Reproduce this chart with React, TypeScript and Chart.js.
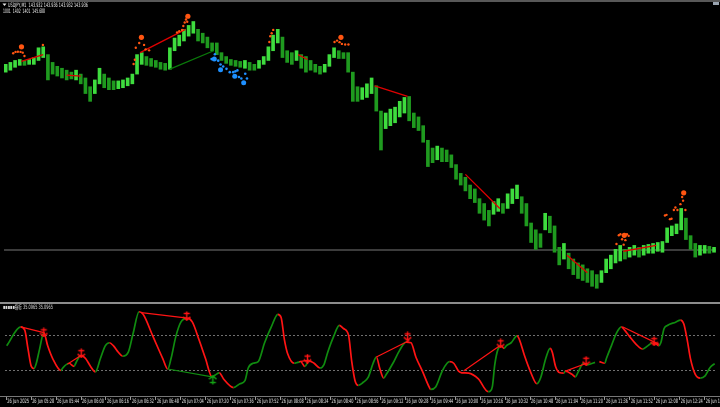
import React, { useEffect, useRef } from "react";
import { Chart, registerables } from "chart.js";

Chart.register(...registerables);

// ---------- price pane data (USDJPY M1, aggregated per 3 minutes) ----------
const CANDLE_STEP_MIN = 3;
const CANDLE_HIGH = [
  144.890, 144.900, 144.910, 144.915, 144.910, 144.915, 144.925, 144.975, 144.980, 144.940,
  144.900, 144.880, 144.870, 144.860, 144.850, 144.860, 144.840, 144.820, 144.775, 144.810,
  144.870, 144.840, 144.820, 144.805, 144.805, 144.810, 144.820, 144.840, 144.940, 144.950,
  144.930, 144.920, 144.910, 144.900, 144.895, 144.975, 145.025, 145.040, 145.070, 145.090,
  145.110, 145.070, 145.050, 145.030, 145.000, 145.000, 144.950, 144.930, 144.915, 144.910,
  144.905, 144.910, 144.900, 144.890, 144.910, 144.930, 144.980, 145.040, 145.070, 145.030,
  144.960, 144.950, 144.960, 144.940, 144.930, 144.910, 144.890, 144.880, 144.890, 144.940,
  144.975, 144.960, 144.950, 144.950, 144.850, 144.775, 144.770, 144.790, 144.820, 144.780,
  144.650, 144.640, 144.660, 144.670, 144.700, 144.720, 144.725, 144.640, 144.620, 144.575,
  144.500, 144.460, 144.470, 144.460, 144.450, 144.425, 144.375, 144.330, 144.310, 144.270,
  144.250, 144.200, 144.175, 144.140, 144.185, 144.200, 144.175, 144.225, 144.250, 144.270,
  144.210, 144.175, 144.075, 144.040, 144.020, 144.125, 144.110, 144.060, 143.950, 143.970,
  143.920, 143.890, 143.870, 143.860, 143.840, 143.830, 143.810, 143.830, 143.890, 143.910,
  143.940, 143.960, 143.940, 143.950, 143.960, 143.950, 143.960, 143.965, 143.970, 143.975,
  143.980, 144.050, 144.060, 144.070, 144.150, 144.100, 144.010, 143.970, 143.960, 143.960,
  143.955, 143.950,
];
const CANDLE_LOW = [
  144.850, 144.860, 144.875, 144.885, 144.885, 144.890, 144.890, 144.910, 144.925, 144.810,
  144.840, 144.830, 144.820, 144.810, 144.815, 144.810, 144.790, 144.740, 144.700, 144.740,
  144.790, 144.770, 144.760, 144.760, 144.765, 144.770, 144.780, 144.790, 144.840, 144.890,
  144.885, 144.880, 144.875, 144.865, 144.860, 144.865, 144.960, 144.985, 145.010, 145.035,
  145.050, 145.010, 145.000, 144.975, 144.960, 144.940, 144.910, 144.895, 144.885, 144.880,
  144.875, 144.870, 144.860, 144.860, 144.870, 144.890, 144.910, 144.960, 145.000, 144.925,
  144.900, 144.890, 144.910, 144.870, 144.850, 144.860, 144.850, 144.840, 144.850, 144.880,
  144.925, 144.920, 144.920, 144.850, 144.700, 144.700, 144.710, 144.720, 144.740, 144.650,
  144.450, 144.560, 144.575, 144.590, 144.620, 144.640, 144.600, 144.565, 144.550, 144.490,
  144.365, 144.385, 144.400, 144.390, 144.390, 144.360, 144.300, 144.270, 144.240, 144.200,
  144.180, 144.125, 144.090, 144.060, 144.120, 144.135, 144.125, 144.150, 144.175, 144.200,
  144.125, 144.060, 143.975, 143.940, 143.950, 144.040, 144.025, 143.925, 143.860, 143.890,
  143.840, 143.810, 143.790, 143.780, 143.770, 143.750, 143.740, 143.770, 143.820, 143.840,
  143.870, 143.880, 143.890, 143.900, 143.910, 143.900, 143.910, 143.920, 143.920, 143.930,
  143.925, 143.975, 144.010, 144.020, 144.040, 143.990, 143.940, 143.900, 143.910, 143.920,
  143.920, 143.925,
];
const LAST_PRICE = 143.936;

// divergence lines on price (minutes, price); null separates segments
const PRICE_RED_T = [10, 24, 24, 39, 48, 48, 86, 115, 115, 187, 193, 193, 236, 257, 257, 294, 316, 316, 359, 372, 372, 395, 416];
const PRICE_RED_P = [144.905, 144.94, null, 144.835, 144.83, null, 144.95, 145.07, null, 144.94, 144.915, null, 144.78, 144.725, null, 144.325, 144.15, null, 143.91, 143.82, null, 143.93, 143.96];
const PRICE_GREEN_T = [105, 133];
const PRICE_GREEN_P = [144.865, 144.96];

// signal dots
const ORANGE_BIG_T = [10.1, 86.8, 116.5, 214.4, 395.6, 433.6];
const ORANGE_BIG_P = [144.98, 145.029, 145.137, 145.029, 144.012, 144.23];
const ORANGE_SMALL_T = [4.8, 6.3, 7.8, 9.5, 10.9, 12.0, 23.8, 83.2, 85.4, 88.5, 89.5, 91.7, 82.6, 81.8, 115.3, 114.5, 116.1, 113.6, 109.6, 111.0, 112.8, 168.6, 169.2, 170.1, 171.1, 210.3, 211.9, 213.5, 215.0, 217.1, 219.2, 392.1, 393.1, 397.3, 398.4, 394.2, 396.3, 390.6, 395.2, 432.6, 433.2, 431.5, 428.3, 429.6, 427.3, 434.7, 424.8, 422.6, 421.6, 425.8];
const ORANGE_SMALL_P = [144.947, 144.954, 144.955, 144.954, 144.95, 144.933, 144.99, 144.975, 145.0, 144.99, 144.967, 144.962, 144.914, 144.892, 145.12, 145.105, 145.109, 145.087, 145.054, 145.06, 145.067, 145.005, 145.034, 145.05, 145.067, 145.005, 145.012, 145.004, 144.995, 144.992, 144.992, 144.012, 144.017, 144.017, 144.009, 143.992, 143.987, 143.967, 143.964, 144.209, 144.19, 144.172, 144.155, 144.142, 144.142, 144.142, 144.095, 144.117, 144.114, 144.097];
const BLUE_BIG_T = [133.4, 137.4, 146.5, 152.2];
const BLUE_BIG_P = [144.917, 144.862, 144.829, 144.795];
const BLUE_SMALL_T = [133.8, 131.7, 135.9, 137.4, 139.1, 141.2, 143.3, 145.5, 146.9, 148.2, 149.2, 150.7, 153.2, 154.3];
const BLUE_SMALL_P = [144.942, 144.917, 144.909, 144.889, 144.879, 144.867, 144.85, 144.85, 144.854, 144.859, 144.825, 144.817, 144.842, 144.817];

// ---------- oscillator pane ----------
const OSC_T = [
  0.0, 9.0, 11.6, 13.7, 15.8, 17.5, 19.0, 21.1, 23.8, 26.3, 29.5, 34.8, 35.8, 40.0, 43.2, 44.3, 46.4, 47.8,
  50.6, 53.8, 56.9, 60.1, 63.2, 65.9, 68.5, 71.6, 74.4, 78.0, 81.1, 84.9, 87.5, 93.8, 100.1, 103.3,
  105.4, 108.5, 111.7, 115.9, 119.1, 123.3, 127.5, 131.7, 133.8, 136.4, 139.1, 145.5, 149.6, 152.8,
  154.9, 158.1, 161.3, 165.4, 169.7, 173.9, 176.0, 178.1, 180.2, 184.4, 186.6, 188.6, 191.2, 193.9,
  197.1, 200.9, 203.4, 205.9, 209.7, 213.3, 216.0, 219.2, 221.3, 223.4, 225.5, 228.7, 231.8, 235.0,
  237.1, 239.2, 241.8, 243.5, 247.7, 251.9, 256.1, 259.3, 262.4, 266.6, 270.9, 271.9, 275.1, 279.3,
  282.4, 284.1, 286.7, 289.8, 291.9, 296.2, 302.5, 308.8, 310.0, 311.5, 313.0, 315.1, 317.2, 318.9,
  320.4, 323.5, 327.3, 328.8, 332.0, 336.2, 340.0, 342.5, 345.7, 348.5, 349.9, 352.0, 354.8, 357.3,
  358.3, 362.5, 364.6, 366.8, 369.9, 372.0, 375.2, 377.3, 378.7, 380.1, 383.6, 384.6, 387.8, 391.0,
  394.2, 396.3, 399.4, 403.7, 407.9, 411.1, 414.2, 416.3, 418.2, 419.5, 421.6, 423.7, 429.0, 432.1,
  434.2, 436.4, 438.5, 441.6, 444.8, 447.9, 451.1, 454.0,
];
const OSC_V = [
  57.9, 79.3, 75.7, 54.2, 34.6, 32.2, 38.2, 54.2, 72.9, 57.9, 43.5, 30.0, 32.5, 38.2, 34.6, 38.2, 45.3, 47.2,
  43.5, 34.6, 28.5, 43.5, 57.9, 61.4, 57.9, 50.7, 46.1, 50.7, 72.1, 96.5, 93.6, 68.6, 43.5, 31.7,
  43.5, 68.6, 84.7, 89.3, 84.7, 65.0, 43.5, 22.8, 25.0, 27.4, 20.4, 10.7, 15.0, 18.5,
  32.8, 38.2, 40.0, 61.4, 79.3, 93.6, 90.0, 65.0, 48.9, 38.2, 39.2, 40.0, 34.6, 41.0,
  38.2, 32.8, 36.4, 50.7, 68.6, 81.0, 77.5, 70.3, 40.0, 18.5, 13.2, 16.7, 22.1, 38.2,
  45.3, 32.8, 21.4, 25.7, 38.2, 52.5, 62.2, 61.4, 45.3, 29.3, 11.4, 8.6, 11.4, 29.3,
  38.2, 40.0, 38.2, 29.3, 27.4, 27.0, 20.4, 6.0, 6.5, 12.0, 36.4, 54.2, 57.9, 55.0,
  57.9, 61.4, 69.2, 65.0, 47.2, 27.4, 15.0, 22.1, 43.5, 55.0, 50.7, 34.6, 27.4, 27.0,
  29.3, 25.7, 22.8, 29.3, 38.2, 36.4, 37.9, 39.2, null, 40.0, 38.2, 43.5, 57.9, 72.1,
  79.3, 75.7, 68.6, 59.6, 54.2, 57.9, 61.4, 60.3, 58.2, 61.4, 77.5, 81.0, 84.7, 87.1,
  82.9, 65.0, 43.5, 25.7, 21.4, 23.9, 33.5, 37.8,
];
const OSC_LEVELS = [70, 30];
const OSC_RED_T = [9.0, 23.8, 23.8, 38.9, 47.8, 47.8, 86.4, 115.9, 115.9, 187.6, 193.9, 193.9, 237.1, 258.2, 258.2, 293.0, 316.2, 316.2, 358.3, 372.0, 372.0, 395.2, 418.4];
const OSC_RED_V = [79.3, 72.9, null, 37.1, 47.2, null, 95.4, 89.3, null, 40.0, 41.8, null, 45.3, 63.9, null, 29.3, 57.9, null, 29.3, 38.2, null, 79.3, 59.6];
const OSC_GREEN_T = [103.3, 131.7];
const OSC_GREEN_V = [31.7, 22.8];
const ARROW_DOWN_T = [23.8, 47.8, 115.5, 192.9, 257.1, 316.8, 371.6, 415.2];
const ARROW_DOWN_V = [73.2, 49.6, 91.7, 43.5, 68.6, 60.7, 41.0, 63.2];
const ARROW_UP_T = [132.2];
const ARROW_UP_V = [19.3];

// ---------- texts ----------
const HEADER_LINE_1 = "USDJPY,M1  143.932 143.936 143.932 143.936";
const HEADER_LINE_2 = "1001  1402  1401  145.688";
const OSC_LABEL = "▪▪▪▪▪指标 35.0965 35.0965";
const TICK_STEP_MIN = 16;
const TICK_LABELS = [
  "26 Jun 2025", "26 Jun 05:28", "26 Jun 05:44", "26 Jun 06:00", "26 Jun 06:16", "26 Jun 06:32",
  "26 Jun 06:48", "26 Jun 07:04", "26 Jun 07:20", "26 Jun 07:36", "26 Jun 07:52", "26 Jun 08:08",
  "26 Jun 08:24", "26 Jun 08:40", "26 Jun 08:56", "26 Jun 09:12", "26 Jun 09:28", "26 Jun 09:44",
  "26 Jun 10:00", "26 Jun 10:16", "26 Jun 10:32", "26 Jun 10:48", "26 Jun 11:04", "26 Jun 11:20",
  "26 Jun 11:36", "26 Jun 11:52", "26 Jun 12:08", "26 Jun 12:24", "26 Jun 12:40",
];

// ---------- layout constants ----------
const X_MIN = -1.08;
const X_MAX = 454.25;
const PRICE_MIN = 143.695;
const PRICE_MAX = 145.2;
const OSC_MIN = 0;
const OSC_MAX = 103;

const GREEN = "#108c10";
const RED = "#ff1414";
const ORANGE = "#ff5511";
const BLUE = "#1e90ff";

function pts(ts: number[], vs: (number | null)[]) {
  return ts.map((t, i) => ({ x: t, y: vs[i] }));
}

function makeArrow(color: string, up: boolean) {
  const c = document.createElement("canvas");
  c.width = 9;
  c.height = 10;
  const g = c.getContext("2d")!;
  if (up) {
    g.translate(0, 10);
    g.scale(1, -1);
  }
  g.strokeStyle = color;
  g.lineWidth = 1.5;
  g.beginPath();
  g.moveTo(4.5, 0.5);
  g.lineTo(4.5, 9.2);
  g.moveTo(1.5, 2.5);
  g.lineTo(7.5, 2.5);
  g.moveTo(0.8, 5.8);
  g.lineTo(4.5, 9.2);
  g.lineTo(8.2, 5.8);
  g.stroke();
  return c;
}

const FONT = '6px "DejaVu Sans", "Noto Sans CJK SC", sans-serif';

const topDecor = {
  id: "topDecor",
  afterDraw(chart: any) {
    const { ctx } = chart;
    ctx.save();
    ctx.fillStyle = "#585858";
    ctx.fillRect(0, 0, 720, 2);
    ctx.fillStyle = "#9aa4b0";
    ctx.fillRect(713, 2, 6, 3);
    ctx.fillStyle = "#e8e8e8";
    ctx.beginPath();
    ctx.moveTo(2.5, 3.5);
    ctx.lineTo(6.5, 3.5);
    ctx.lineTo(4.5, 6);
    ctx.closePath();
    ctx.fill();
    ctx.font = FONT;
    ctx.textBaseline = "middle";
    ctx.fillText(HEADER_LINE_1, 8, 5, 80);
    ctx.fillText(HEADER_LINE_2, 3, 11, 42);
    ctx.restore();
  },
};

const botDecor = {
  id: "botDecor",
  beforeDatasetsDraw(chart: any) {
    const { ctx, chartArea, scales } = chart;
    ctx.save();
    ctx.strokeStyle = "#707070";
    ctx.lineWidth = 1;
    ctx.setLineDash([2, 2]);
    for (const lv of OSC_LEVELS) {
      const py = Math.round(scales.y.getPixelForValue(lv)) + 0.5;
      ctx.beginPath();
      ctx.moveTo(chartArea.left, py);
      ctx.lineTo(chartArea.right, py);
      ctx.stroke();
    }
    ctx.restore();
  },
  afterDraw(chart: any) {
    const { ctx, chartArea, scales } = chart;
    ctx.save();
    ctx.fillStyle = "#8c8c8c";
    ctx.fillRect(0, 1, 720, 2);
    ctx.fillStyle = "#777777";
    ctx.fillRect(0, chartArea.bottom - 1, 720, 1);
    ctx.font = FONT;
    ctx.textBaseline = "middle";
    ctx.fillStyle = "#d8d8d8";
    ctx.fillText(OSC_LABEL, 3, 6.5, 50);
    TICK_LABELS.forEach((lab, k) => {
      const px = scales.x.getPixelForValue(k * TICK_STEP_MIN);
      ctx.fillStyle = "#9a9a9a";
      ctx.fillRect(Math.round(px) - 1, chartArea.bottom, 1, 3);
      ctx.fillStyle = "#e0e0e0";
      ctx.fillText(lab, px + 0.5, chartArea.bottom + 4.5, 22);
    });
    ctx.restore();
  },
};

export default function App() {
  const topRef = useRef<HTMLCanvasElement>(null);
  const botRef = useRef<HTMLCanvasElement>(null);

  useEffect(() => {
    document.body.style.margin = "0";
    document.body.style.background = "#000";

    const candles = CANDLE_HIGH.map((h, i) => ({ x: i * CANDLE_STEP_MIN, y: [CANDLE_LOW[i], h] }));
    const mids = CANDLE_HIGH.map((h, i) => (h + CANDLE_LOW[i]) / 2);

    const top = new Chart(topRef.current!, {
      type: "bar",
      data: {
        datasets: [
          {
            type: "line",
            data: [{ x: X_MIN, y: LAST_PRICE }, { x: X_MAX, y: LAST_PRICE }],
            borderColor: "#505050",
            borderWidth: 1.5,
            pointRadius: 0,
            order: 10,
          } as any,
          {
            type: "bar",
            data: candles,
            barThickness: 3,
            borderWidth: 0,
            grouped: false,
            backgroundColor: (c: any) => {
              const i = c.dataIndex;
              return i > 0 && mids[i] < mids[i - 1] ? "#1f9a1f" : "#3edc3e";
            },
            order: 5,
          },
          {
            type: "line",
            data: pts(PRICE_RED_T, PRICE_RED_P),
            borderColor: "#e00000",
            borderWidth: 1.3,
            pointRadius: 0,
            spanGaps: false,
            order: 2,
          },
          {
            type: "line",
            data: pts(PRICE_GREEN_T, PRICE_GREEN_P),
            borderColor: "#0a7a0a",
            borderWidth: 1.3,
            pointRadius: 0,
            order: 2,
          },
          {
            type: "scatter",
            data: pts(BLUE_SMALL_T, BLUE_SMALL_P),
            backgroundColor: BLUE,
            borderWidth: 0,
            pointRadius: 1.3,
            order: 1,
          },
          {
            type: "scatter",
            data: pts(BLUE_BIG_T, BLUE_BIG_P),
            backgroundColor: BLUE,
            borderWidth: 0,
            pointRadius: 2.5,
            order: 1,
          },
          {
            type: "scatter",
            data: pts(ORANGE_SMALL_T, ORANGE_SMALL_P),
            backgroundColor: ORANGE,
            borderWidth: 0,
            pointRadius: 1.2,
            order: 1,
          },
          {
            type: "scatter",
            data: pts(ORANGE_BIG_T, ORANGE_BIG_P),
            backgroundColor: ORANGE,
            borderWidth: 0,
            pointRadius: 2.6,
            order: 1,
          },
        ],
      } as any,
      options: {
        animation: false,
        responsive: false,
        maintainAspectRatio: false,
        events: [],
        layout: { padding: 0 },
        plugins: { legend: { display: false }, tooltip: { enabled: false } },
        scales: {
          x: { type: "linear", display: false, min: X_MIN, max: X_MAX, offset: false },
          y: { type: "linear", display: false, min: PRICE_MIN, max: PRICE_MAX, beginAtZero: false },
        },
      } as any,
      plugins: [topDecor],
    });

    const bot = new Chart(botRef.current!, {
      type: "line",
      data: {
        datasets: [
          {
            data: pts(OSC_T, OSC_V),
            borderColor: GREEN,
            borderWidth: 1.7,
            pointRadius: 0,
            spanGaps: false,
            cubicInterpolationMode: "monotone",
            segment: {
              borderColor: (c: any) => (c.p1.parsed.y >= c.p0.parsed.y ? GREEN : RED),
            },
            order: 3,
          },
          {
            data: pts(OSC_RED_T, OSC_RED_V),
            borderColor: RED,
            borderWidth: 1.2,
            pointRadius: 0,
            spanGaps: false,
            order: 2,
          },
          {
            data: pts(OSC_GREEN_T, OSC_GREEN_V),
            borderColor: GREEN,
            borderWidth: 1.2,
            pointRadius: 0,
            order: 2,
          },
          {
            type: "scatter",
            data: pts(ARROW_DOWN_T, ARROW_DOWN_V),
            pointStyle: makeArrow(RED, false),
            pointRadius: 4,
            order: 1,
          },
          {
            type: "scatter",
            data: pts(ARROW_UP_T, ARROW_UP_V),
            pointStyle: makeArrow("#14a014", true),
            pointRadius: 4,
            order: 1,
          },
        ],
      } as any,
      options: {
        animation: false,
        responsive: false,
        maintainAspectRatio: false,
        events: [],
        layout: { padding: { left: 0, right: 0, top: 0, bottom: 10 } },
        plugins: { legend: { display: false }, tooltip: { enabled: false } },
        scales: {
          x: { type: "linear", display: false, min: X_MIN, max: X_MAX },
          y: { type: "linear", display: false, min: OSC_MIN, max: OSC_MAX },
        },
      } as any,
      plugins: [botDecor],
    });

    return () => {
      top.destroy();
      bot.destroy();
    };
  }, []);

  return (
    <div style={{ position: "relative", width: 720, height: 407, background: "#000", overflow: "hidden" }}>
      <canvas
        ref={topRef}
        width={720}
        height={301}
        style={{ position: "absolute", left: 0, top: 0, width: 720, height: 301 }}
      />
      <canvas
        ref={botRef}
        width={720}
        height={106}
        style={{ position: "absolute", left: 0, top: 301, width: 720, height: 106 }}
      />
    </div>
  );
}
